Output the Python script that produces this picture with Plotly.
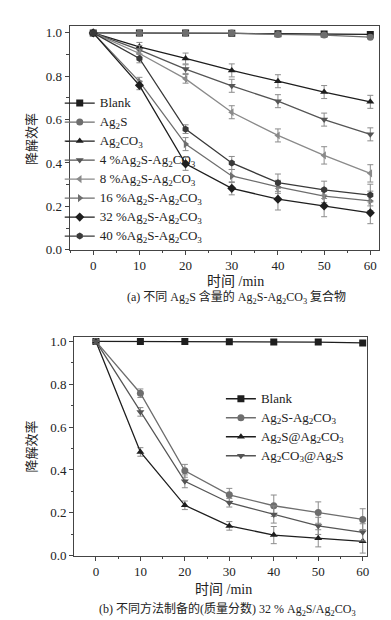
import plotly.graph_objects as go

# ---------------- data ----------------
time_min = [0, 10, 20, 30, 40, 50, 60]

# (a) different Ag2S content
a_names = ["Blank", "Ag<sub>2</sub>S", "Ag<sub>2</sub>CO<sub>3</sub>",
           "4 %Ag<sub>2</sub>S-Ag<sub>2</sub>CO<sub>3</sub>",
           "8 %Ag<sub>2</sub>S-Ag<sub>2</sub>CO<sub>3</sub>",
           "16 %Ag<sub>2</sub>S-Ag<sub>2</sub>CO<sub>3</sub>",
           "32 %Ag<sub>2</sub>S-Ag<sub>2</sub>CO<sub>3</sub>",
           "40 %Ag<sub>2</sub>S-Ag<sub>2</sub>CO<sub>3</sub>"]
a_blank = [1.0, 1.0, 1.0, 0.998, 0.996, 0.995, 0.993]
a_ag2s = [1.0, 1.0, 1.0, 0.999, 0.993, 0.99, 0.98]
a_ag2co3 = [1.0, 0.936, 0.882, 0.827, 0.777, 0.727, 0.682]
a_4 = [1.0, 0.922, 0.833, 0.756, 0.685, 0.600, 0.532]
a_8 = [1.0, 0.905, 0.788, 0.634, 0.527, 0.435, 0.352]
a_16 = [1.0, 0.775, 0.487, 0.340, 0.290, 0.247, 0.225]
a_32 = [1.0, 0.758, 0.396, 0.283, 0.233, 0.202, 0.170]
a_40 = [1.0, 0.882, 0.556, 0.400, 0.309, 0.276, 0.252]
a_err_blank = [0, 0.004, 0.004, 0.004, 0.005, 0.005, 0.005]
a_err_ag2s = [0, 0.004, 0.004, 0.004, 0.005, 0.005, 0.006]
a_err_ag2co3 = [0, 0.02, 0.025, 0.03, 0.03, 0.03, 0.03]
a_err_4 = [0, 0.02, 0.02, 0.03, 0.03, 0.03, 0.03]
a_err_8 = [0, 0.02, 0.02, 0.03, 0.03, 0.04, 0.04]
a_err_16 = [0, 0.02, 0.03, 0.03, 0.03, 0.03, 0.045]
a_err_32 = [0, 0.02, 0.03, 0.03, 0.05, 0.05, 0.05]
a_err_40 = [0, 0.02, 0.02, 0.03, 0.04, 0.04, 0.05]

# (b) different preparation methods
b_names = ["Blank", "Ag<sub>2</sub>S-Ag<sub>2</sub>CO<sub>3</sub>",
           "Ag<sub>2</sub>S@Ag<sub>2</sub>CO<sub>3</sub>",
           "Ag<sub>2</sub>CO<sub>3</sub>@Ag<sub>2</sub>S"]
b_blank = [1.0, 1.0, 1.0, 0.998, 0.997, 0.997, 0.993]
b_mix = [1.0, 0.758, 0.396, 0.284, 0.233, 0.201, 0.169]
b_core = [1.0, 0.484, 0.235, 0.139, 0.096, 0.081, 0.067]
b_shell = [1.0, 0.671, 0.347, 0.247, 0.192, 0.139, 0.109]
b_err_blank = [0, 0.003, 0.003, 0.003, 0.003, 0.003, 0.003]
b_err_mix = [0, 0.02, 0.03, 0.03, 0.05, 0.05, 0.05]
b_err_core = [0, 0.02, 0.02, 0.02, 0.04, 0.04, 0.055]
b_err_shell = [0, 0.02, 0.03, 0.02, 0.04, 0.04, 0.04]

x_ticks = [0, 10, 20, 30, 40, 50, 60]
y_ticks = [0.0, 0.2, 0.4, 0.6, 0.8, 1.0]
y_tick_text = ["0.0", "0.2", "0.4", "0.6", "0.8", "1.0"]

# ---------------- figure ----------------
FONT = "Liberation Serif, Noto Sans CJK SC, serif"
BLACK = "#1e1e1e"
DARK = "#3a3a3a"
GRAY = "#6e6e6e"
LGRAY = "#8a8a8a"
ERRC = "#8c8c8c"


def leg(name):
    return '<span style="font-size:13px">' + name + '</span>'


fig = go.Figure()

a_series = [
    (a_blank, a_err_blank, "square", BLACK),
    (a_ag2s, a_err_ag2s, "circle", GRAY),
    (a_ag2co3, a_err_ag2co3, "triangle-up", BLACK),
    (a_4, a_err_4, "triangle-down", "#555555"),
    (a_8, a_err_8, "triangle-left", LGRAY),
    (a_16, a_err_16, "triangle-right", GRAY),
    (a_32, a_err_32, "diamond", BLACK),
    (a_40, a_err_40, "hexagon", DARK),
]
for name, (vals, err, sym, col) in zip(a_names, a_series):
    fig.add_trace(go.Scatter(
        x=time_min, y=vals, name=leg(name), mode="lines+markers",
        line=dict(color=col, width=1.3),
        marker=dict(symbol=sym, size=7, color=col),
        error_y=dict(type="data", array=err, visible=True, color=ERRC, thickness=1, width=3),
        xaxis="x", yaxis="y", legend="legend"))

b_series = [
    (b_blank, b_err_blank, "square", BLACK),
    (b_mix, b_err_mix, "circle", GRAY),
    (b_core, b_err_core, "triangle-up", BLACK),
    (b_shell, b_err_shell, "triangle-down", "#555555"),
]
for name, (vals, err, sym, col) in zip(b_names, b_series):
    fig.add_trace(go.Scatter(
        x=time_min, y=vals, name=leg(name), mode="lines+markers",
        line=dict(color=col, width=1.3),
        marker=dict(symbol=sym, size=7, color=col),
        error_y=dict(type="data", array=err, visible=True, color=ERRC, thickness=1, width=3),
        xaxis="x2", yaxis="y2", legend="legend2"))

W, H = 391, 620


def px(v):
    return v / W


def py(v):
    return 1 - v / H


axis_common = dict(
    showline=True, linecolor="#444", linewidth=1.3, mirror=True,
    ticks="outside", ticklen=4, tickwidth=1.2, tickcolor="#444",
    showgrid=False, zeroline=False,
    tickfont=dict(family=FONT, size=13, color="#222"),
    minor=dict(ticks="outside", ticklen=2.5, tickwidth=1, tickcolor="#444"),
)

fig.update_layout(
    width=W, height=H,
    margin=dict(l=0, r=0, t=0, b=0),
    paper_bgcolor="white", plot_bgcolor="white",
    showlegend=True,
    font=dict(family=FONT, color="#222"),
    xaxis=dict(domain=[px(62), px(373)], range=[-5.1, 61.9], anchor="y",
               tickvals=x_ticks, minor_dtick=5, **axis_common),
    yaxis=dict(domain=[py(243), py(15)], range=[0, 1.033], anchor="x",
               tickvals=y_ticks, ticktext=y_tick_text, minor_dtick=0.1, **axis_common),
    xaxis2=dict(domain=[px(66.7), px(361)], range=[-4.85, 61], anchor="y2",
                tickvals=x_ticks, minor_dtick=5, **axis_common),
    yaxis2=dict(domain=[py(554.5), py(332)], range=[0, 1.02], anchor="x2",
                tickvals=y_ticks, ticktext=y_tick_text, minor_dtick=0.1, **axis_common),
    legend=dict(x=px(52), y=py(79), xanchor="left", yanchor="top",
                bgcolor="rgba(0,0,0,0)", borderwidth=0, itemwidth=30,
                tracegroupgap=0, font=dict(family=FONT, size=10.4, color="#222")),
    legend2=dict(x=px(214), y=py(380), xanchor="left", yanchor="top",
                 bgcolor="rgba(0,0,0,0)", borderwidth=0, itemwidth=30,
                 tracegroupgap=0, font=dict(family=FONT, size=10, color="#222")),
)

annos = [
    dict(text="时间 /min", x=px(229), y=py(275), size=14),
    dict(text="(a) 不同 Ag<sub>2</sub>S 含量的 Ag<sub>2</sub>S-Ag<sub>2</sub>CO<sub>3</sub> 复合物",
         x=px(229.5), y=py(292), size=12),
    dict(text="时间 /min", x=px(217), y=py(589), size=14),
    dict(text="(b) 不同方法制备的(质量分数) 32 % Ag<sub>2</sub>S/Ag<sub>2</sub>CO<sub>3</sub>",
         x=px(221), y=py(609), size=12),
    dict(text="降解效率", x=px(23.5), y=py(130), angle=-90),
    dict(text="降解效率", x=px(23.5), y=py(443), angle=-90),
]
for a in annos:
    fig.add_annotation(text=a["text"], x=a["x"], y=a["y"], xref="paper", yref="paper",
                       showarrow=False, xanchor="center", yanchor="middle",
                       textangle=a.get("angle", 0),
                       font=dict(family=FONT, size=a.get("size", 13), color="#222"))

fig.write_html("out.html")
